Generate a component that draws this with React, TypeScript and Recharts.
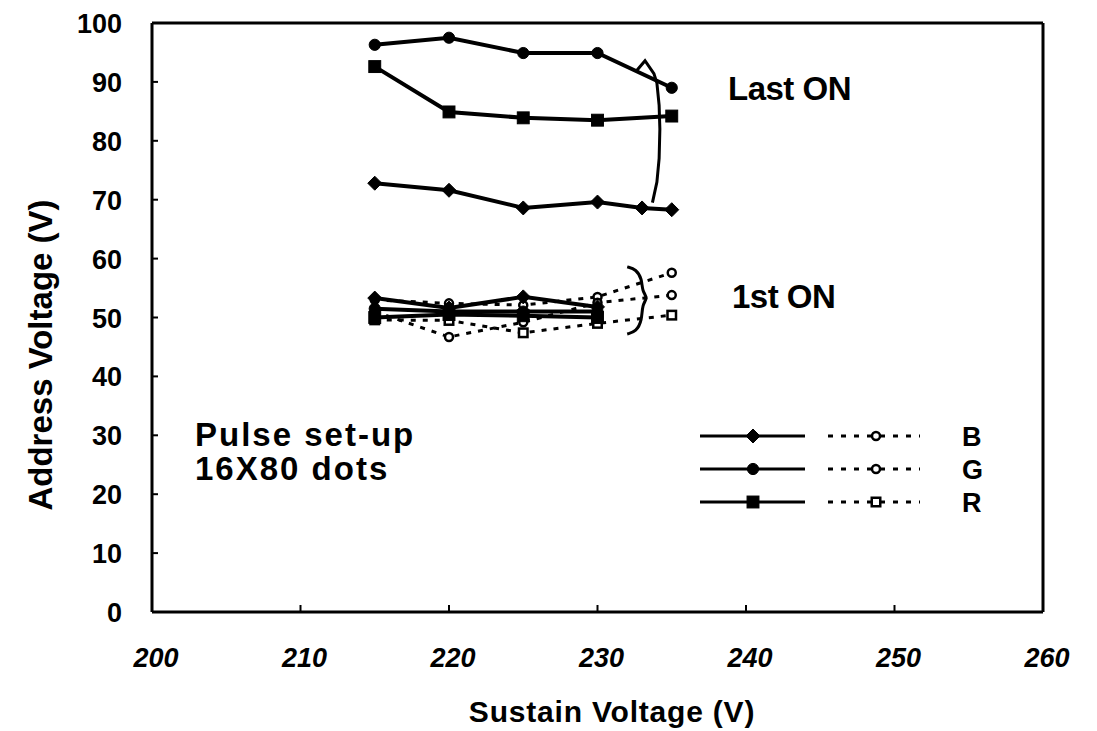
import { LineChart, Line, XAxis, YAxis, ReferenceLine } from 'recharts';

const FONT = '"Liberation Sans", Arial, Helvetica, sans-serif';

const xTicks = [200, 210, 220, 230, 240, 250, 260];
const yTicks = [0, 10, 20, 30, 40, 50, 60, 70, 80, 90, 100];

// "Last ON" curves
const lastG = [
  { x: 215, y: 96.3 },
  { x: 220, y: 97.5 },
  { x: 225, y: 94.9 },
  { x: 230, y: 94.9 },
  { x: 235, y: 89.0 },
];
const lastR = [
  { x: 215, y: 92.6 },
  { x: 220, y: 84.9 },
  { x: 225, y: 83.9 },
  { x: 230, y: 83.5 },
  { x: 235, y: 84.2 },
];
const lastB = [
  { x: 215, y: 72.8 },
  { x: 220, y: 71.6 },
  { x: 225, y: 68.6 },
  { x: 230, y: 69.6 },
  { x: 233, y: 68.6 },
  { x: 235, y: 68.3 },
];
// hand drawn loop closing the "Last ON" area
const lastLoop = [
  { x: 232.6, y: 91.8 },
  { x: 233.2, y: 93.6 },
  { x: 233.8, y: 91.4 },
  { x: 234.0, y: 89.8 },
  { x: 234.15, y: 86.0 },
  { x: 234.2, y: 82.0 },
  { x: 234.15, y: 77.0 },
  { x: 234.0, y: 73.0 },
  { x: 233.7, y: 69.5 },
];

// "1st ON" curves, solid (filled marks) and dashed (open marks)
const firstB = [
  { x: 215, y: 53.3 },
  { x: 220, y: 51.6 },
  { x: 225, y: 53.5 },
  { x: 230, y: 51.8 },
];
const firstG = [
  { x: 215, y: 51.5 },
  { x: 220, y: 51.0 },
  { x: 225, y: 51.0 },
  { x: 230, y: 51.0 },
];
const firstR = [
  { x: 215, y: 50.0 },
  { x: 220, y: 50.5 },
  { x: 225, y: 50.3 },
  { x: 230, y: 50.0 },
];
const firstBOpen = [
  { x: 215, y: 53.0 },
  { x: 220, y: 52.4 },
  { x: 225, y: 52.1 },
  { x: 230, y: 53.5 },
  { x: 235, y: 57.6 },
];
const firstGOpen = [
  { x: 215, y: 51.0 },
  { x: 220, y: 46.7 },
  { x: 225, y: 49.2 },
  { x: 230, y: 52.5 },
  { x: 235, y: 53.8 },
];
const firstROpen = [
  { x: 215, y: 49.6 },
  { x: 220, y: 49.5 },
  { x: 225, y: 47.4 },
  { x: 230, y: 49.0 },
  { x: 235, y: 50.4 },
];
const brace = [
  { x: 232.0, y: 58.6 },
  { x: 232.6, y: 58.2 },
  { x: 233.0, y: 56.5 },
  { x: 233.0, y: 54.5 },
  { x: 233.4, y: 53.3 },
  { x: 233.0, y: 52.2 },
  { x: 233.0, y: 49.5 },
  { x: 232.6, y: 47.6 },
  { x: 232.0, y: 47.2 },
];

const legendRows = [
  { name: 'B', shape: 'diamond', openShape: 'circle' },
  { name: 'G', shape: 'circle', openShape: 'circle' },
  { name: 'R', shape: 'square', openShape: 'square' },
];

type Shape = 'diamond' | 'circle' | 'square';

function Mark({ cx, cy, shape, open, s = 7 }: { cx: number; cy: number; shape: Shape; open?: boolean; s?: number }) {
  const fill = open ? '#fff' : '#000';
  const sw = open ? 2.5 : 1;
  if (shape === 'diamond')
    return <polygon points={`${cx},${cy - s} ${cx + s},${cy} ${cx},${cy + s} ${cx - s},${cy}`} fill={fill} stroke="#000" strokeWidth={sw} />;
  if (shape === 'square')
    return <rect x={cx - s * 0.85} y={cy - s * 0.85} width={s * 1.7} height={s * 1.7} fill={fill} stroke="#000" strokeWidth={sw} />;
  return <circle cx={cx} cy={cy} r={s * 0.8} fill={fill} stroke="#000" strokeWidth={sw} />;
}

const dotFor = (shape: Shape, open = false, s = 7) => (p: any) =>
  <Mark key={p.index} cx={p.cx} cy={p.cy} shape={shape} open={open} s={open ? 5 : s} />;

function YTick({ x, y, payload }: any) {
  const v = payload.value;
  return (
    <g>
      {v > 0 && v < 100 && <line x1={x} x2={x + 6} y1={y} y2={y} stroke="#000" strokeWidth={2} />}
      <text x={x - 30} y={y + 10} textAnchor="end" fontFamily={FONT} fontWeight="bold" fontSize={27} fill="#000">
        {v}
      </text>
    </g>
  );
}

function XTick({ x, y, payload }: any) {
  const v = payload.value;
  return (
    <g>
      {v > 200 && v < 260 && <line x1={x} x2={x} y1={y} y2={y - 7} stroke="#000" strokeWidth={2} />}
      <text x={x + 4} y={y + 55} textAnchor="middle" fontFamily={FONT} fontWeight="bold" fontStyle="italic" fontSize={27} fill="#000">
        {v}
      </text>
    </g>
  );
}

function LegendBox() {
  return (
    <svg width={300} height={110} style={{ position: 'absolute', left: 695, top: 415 }}>
      {legendRows.map((r, i) => {
        const y = 21 + i * 33;
        return (
          <g key={r.name}>
            <line x1={5} x2={110} y1={y} y2={y} stroke="#000" strokeWidth={3} />
            <Mark cx={58} cy={y} shape={r.shape as Shape} s={7} />
            <line x1={133} x2={225} y1={y} y2={y} stroke="#000" strokeWidth={3} strokeDasharray="5 8" />
            <Mark cx={181} cy={y} shape={r.openShape as Shape} open s={5} />
            <text x={267} y={y + 10} fontFamily={FONT} fontWeight="bold" fontSize={27} fill="#000">
              {r.name}
            </text>
          </g>
        );
      })}
    </svg>
  );
}

const textStyle: React.CSSProperties = {
  position: 'absolute',
  fontFamily: FONT,
  fontWeight: 'bold',
  color: '#000',
  whiteSpace: 'nowrap',
  lineHeight: 1,
};

export default function App() {
  const solid = { stroke: '#000', strokeWidth: 4, isAnimationActive: false, legendType: 'none' as const };
  const dashed = { ...solid, strokeWidth: 3, strokeDasharray: '5 7' };
  return (
    <div style={{ position: 'absolute', left: 0, top: 0, width: 1097, height: 731, background: '#fff' }}>
      <LineChart width={1097} height={731} margin={{ top: 23, right: 54, bottom: 69, left: 92 }}>
        <XAxis
          type="number"
          dataKey="x"
          domain={[200, 260]}
          ticks={xTicks}
          height={50}
          tickSize={0}
          tickMargin={0}
          tickLine={false}
          axisLine={{ stroke: '#000', strokeWidth: 3 }}
          tick={<XTick />}
          allowDataOverflow
        />
        <YAxis
          type="number"
          dataKey="y"
          domain={[0, 100]}
          ticks={yTicks}
          width={60}
          tickSize={0}
          tickMargin={0}
          tickLine={false}
          axisLine={{ stroke: '#000', strokeWidth: 3 }}
          tick={<YTick />}
          allowDataOverflow
        />
        <ReferenceLine y={100} stroke="#000" strokeWidth={3} />
        <ReferenceLine x={260} stroke="#000" strokeWidth={3} />

        <Line data={lastG} dataKey="y" {...solid} dot={dotFor('circle')} />
        <Line data={lastR} dataKey="y" {...solid} dot={dotFor('square')} />
        <Line data={lastB} dataKey="y" {...solid} dot={dotFor('diamond')} />
        <Line data={lastLoop} dataKey="y" {...solid} strokeWidth={3} dot={false} />

        <Line data={firstBOpen} dataKey="y" {...dashed} dot={dotFor('circle', true)} />
        <Line data={firstGOpen} dataKey="y" {...dashed} dot={dotFor('circle', true)} />
        <Line data={firstROpen} dataKey="y" {...dashed} dot={dotFor('square', true)} />
        <Line data={firstB} dataKey="y" {...solid} dot={dotFor('diamond', false, 7)} />
        <Line data={firstG} dataKey="y" {...solid} dot={dotFor('circle', false, 7)} />
        <Line data={firstR} dataKey="y" {...solid} dot={dotFor('square', false, 7)} />
        <Line data={brace} dataKey="y" {...solid} strokeWidth={3} type="basis" dot={false} />
      </LineChart>

      <LegendBox />

      <div style={{ ...textStyle, left: 728, top: 72, fontSize: 33, letterSpacing: -0.5 }}>Last ON</div>
      <div style={{ ...textStyle, left: 732, top: 280, fontSize: 33, letterSpacing: -0.5 }}>1st ON</div>
      <div style={{ ...textStyle, left: 195, top: 418, fontSize: 33, letterSpacing: 2 }}>Pulse set-up</div>
      <div style={{ ...textStyle, left: 195, top: 452, fontSize: 33, letterSpacing: 2 }}>16X80 dots</div>
      <div style={{ ...textStyle, left: 612, top: 712, fontSize: 30, letterSpacing: 0.8, transform: 'translate(-50%, -50%)' }}>
        Sustain Voltage (V)
      </div>
      <div style={{ ...textStyle, left: 40, top: 355, fontSize: 33, transform: 'translate(-50%, -50%) rotate(-90deg)' }}>
        Address Voltage (V)
      </div>
    </div>
  );
}
